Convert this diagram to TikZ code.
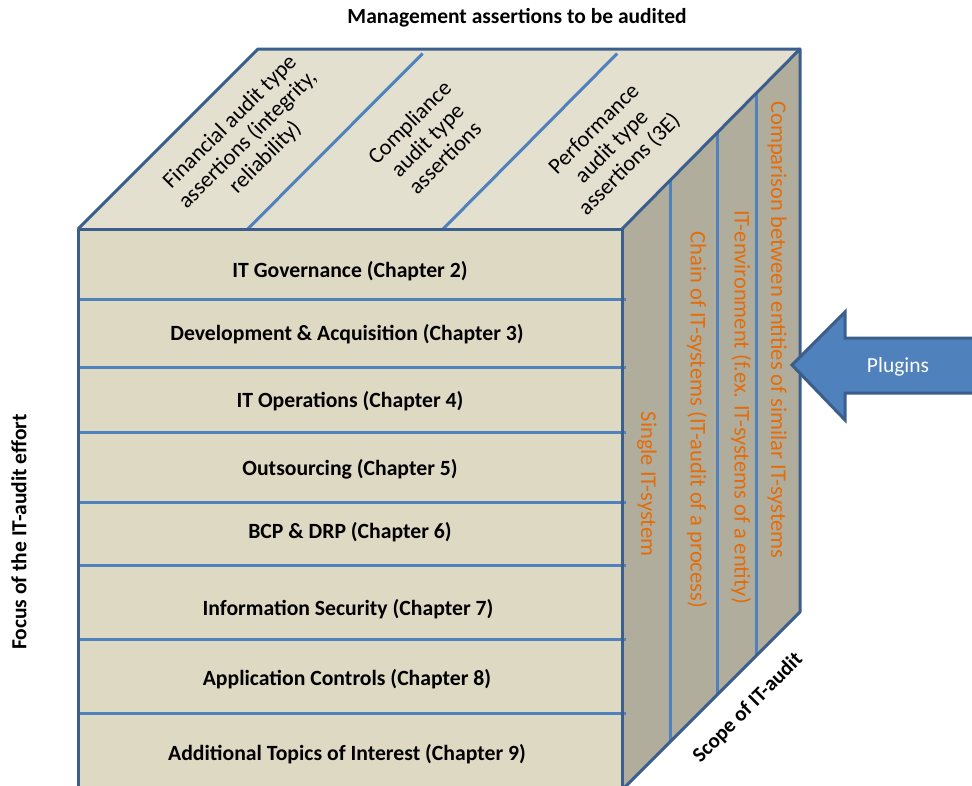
\documentclass[tikz,border=0pt]{standalone}
\usepackage{fontspec}
\setmainfont{Carlito}
\usetikzlibrary{calc}
\definecolor{outl}{HTML}{3B5E8C}
\definecolor{inl}{HTML}{4F81BD}
\definecolor{frontc}{HTML}{DDD9C3}
\definecolor{topc}{HTML}{E3E0D0}
\definecolor{sidec}{HTML}{B0AD9D}
\definecolor{orng}{HTML}{E46C0A}
\tikzset{
  face/.style={draw=outl, line width=3pt, line join=round},
  inline/.style={draw=inl, line width=3pt},
  chap/.style={font=\bfseries\fontsize{21.7}{26}\selectfont, anchor=center},
  toplab/.style={font=\fontsize{22.5}{25}\selectfont, align=center, rotate=45, anchor=center},
  sidelab/.style={font=\fontsize{22.5}{26}\selectfont, text=orng, rotate=-90, anchor=center},
  axislab/.style={font=\bfseries\fontsize{21.5}{26}\selectfont, anchor=center}
}
\begin{document}
\begin{tikzpicture}[x=1pt,y=-1pt]
\useasboundingbox (0,0) rectangle (972,785);
% corners
\coordinate (FTL) at (78,229);
\coordinate (FTR) at (622,229);
\coordinate (BTL) at (258,49);
\coordinate (BTR) at (800,49);
\coordinate (FBL) at (78,790);
\coordinate (FBR) at (622,790);
\coordinate (BBR) at (800,612);
% faces
\fill[sidec] (FTR) -- (BTR) -- (BBR) -- (FBR) -- cycle;
\fill[topc] (FTL) -- (BTL) -- (BTR) -- (FTR) -- cycle;
\fill[frontc] (FTL) -- (FTR) -- (FBR) -- (FBL) -- cycle;
% right face lines
\foreach \t in {0.275,0.534,0.758}
  \draw[inline] ($(FTR)!\t!(BTR)$) -- ($(FBR)!\t!(BBR)$);
% top face dividers
\foreach \t in {0.312,0.671}
  \draw[inline] ($(FTL)!\t!(FTR)$) -- ($ ($(FTL)!\t!(FTR)$)!0.975!($(BTL)!\t!(BTR)$) $);
% front face horizontal lines
\foreach \yy in {299,367,432,502,565,639,713}
  \draw[inline] (80,\yy) -- (626,\yy);
% outlines
\draw[face] (FTR) -- (BTR) -- (BBR) -- (FBR);
\draw[face] (FTL) -- (BTL) -- (BTR);
\draw[face] (FBL) -- (FTL) -- (FTR) -- (FBR);
% chapter labels
\node[chap] (c2) at (350,271) {IT Governance (Chapter 2)};
\node[chap] (c3) at (347,334) {Development \& Acquisition (Chapter 3)};
\node[chap] (c4) at (350,401) {IT Operations (Chapter 4)};
\node[chap] (c5) at (350,469) {Outsourcing (Chapter 5)};
\node[chap] (c6) at (350,532) {BCP \& DRP (Chapter 6)};
\node[chap] (c7) at (348,609) {Information Security (Chapter 7)};
\node[chap] (c8) at (347,679) {Application Controls (Chapter 8)};
\node[chap] (c9) at (347,754) {Additional Topics of Interest (Chapter 9)};
% top labels
\node[toplab] (fin) at (248,140) {Financial audit type\\assertions (integrity,\\reliability)};
\node[toplab] (comp) at (427,140) {Compliance\\audit type\\assertions};
\node[toplab] (perf) at (612,147) {Performance\\audit type\\assertions (3E)};
% side labels
\node[sidelab] (s1) at (647,484) {Single IT-system};
\node[sidelab] (s2) at (697,420) {Chain of IT-systems (IT-audit of a process)};
\node[sidelab] (s3) at (741,407) {IT-environment (f.ex. IT-systems of a entity)};
\node[sidelab] (s4) at (777,330) {Comparison between entities of similar IT-systems};
% axis labels
\node[axislab] (title) at (517,18) {Management assertions to be audited};
\node[axislab, rotate=90] (focus) at (19,532) {Focus of the IT-audit effort};
\node[font=\bfseries\fontsize{21}{26}\selectfont, rotate=45] (scope) at (748,708) {Scope of IT-audit};
% plugins arrow
\draw[fill=inl, draw=outl, line width=3pt, line join=miter]
  (792,365) -- (845,312) -- (845,338) -- (980,338) -- (980,393) -- (845,393) -- (845,420) -- cycle;
\node[font=\fontsize{21.5}{26}\selectfont, text=white] (plug) at (898,367) {Plugins};
\end{tikzpicture}
\end{document}
